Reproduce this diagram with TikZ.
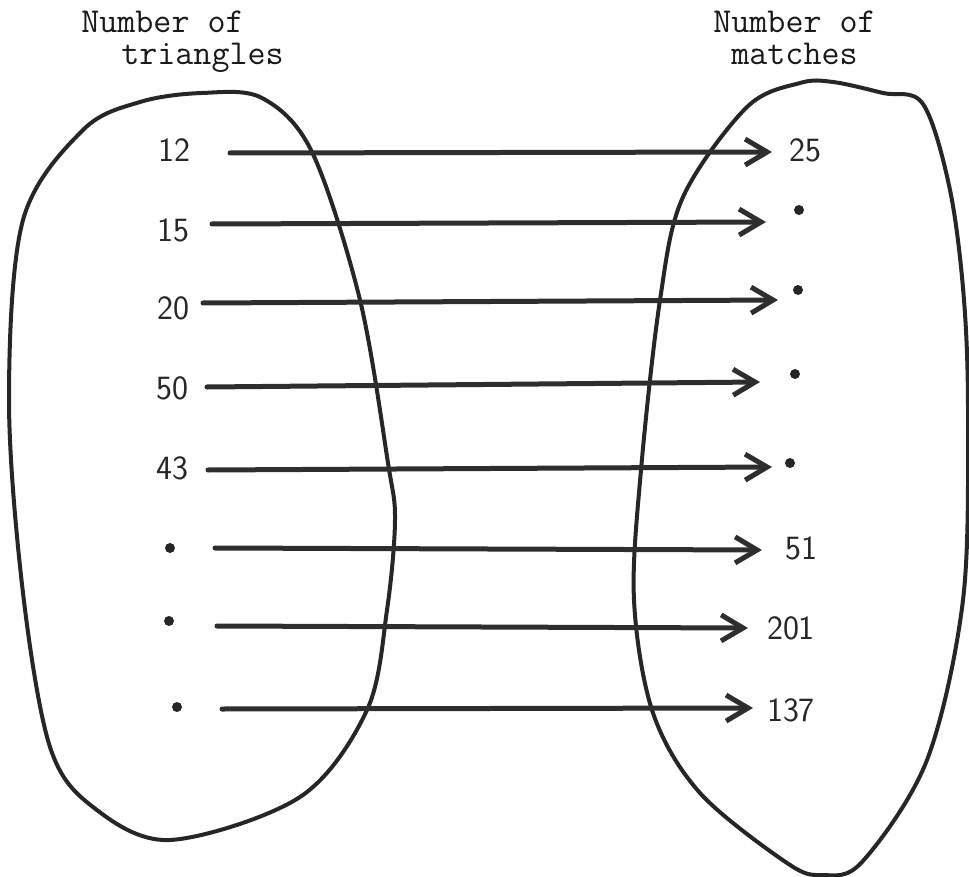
\documentclass[tikz,border=0pt]{standalone}
\usepackage{tikz}
\usetikzlibrary{arrows.meta}
\tikzset{
  blob/.style={line width=2pt, black!85, line join=round},
  maparr/.style={line width=2.5pt, black!82, line cap=round,
    -{Straight Barb[length=11pt, width=13pt]}},
  numlbl/.style={font=\fontsize{17}{17}\selectfont\sffamily, inner sep=0pt, black!85},
  headlbl/.style={font=\fontsize{17.5}{16}\selectfont\ttfamily, inner sep=0pt, align=left,
    anchor=north west, black!90},
  dotmark/.style={circle, fill=black!85, inner sep=0pt, minimum size=5pt},
}

\begin{document}
\begin{tikzpicture}[x=0.5pt, y=-0.5pt]
\useasboundingbox (0,0) rectangle (969,877);
% headings
\node[headlbl] (tri) at (81,11) {Number of\\\hspace*{20pt}triangles};
\node[headlbl] (mat) at (713,11) {Number of\\\hspace*{9pt}matches};
% the two sets
\draw[blob] plot[smooth cycle, tension=0.55] coordinates {
  (202,93) (262,98) (312,152) (360,300) (388,463) (395,520) (387,610)
  (367,710) (300,797) (170,840) (93,807) (50,747) (23,593) (9,400)
  (23,220) (83,130) (140,102)};
\draw[blob] plot[smooth cycle, tension=0.55] coordinates {
  (800,83) (833,82) (883,93) (923,104) (950,190) (964,300) (968,420)
  (963,600) (927,760) (862,862) (822,875) (787,863) (700,793)
  (653,713) (634,600) (641,470) (660,300) (683,197) (747,107)};
% left values
\node[numlbl] (l1) at (174,150) {12};
\node[numlbl] (l2) at (173,230) {15};
\node[numlbl] (l3) at (173,308) {20};
\node[numlbl] (l4) at (172,388) {50};
\node[numlbl] (l5) at (172,468) {43};
\node[dotmark] (l6) at (170,548) {};
\node[dotmark] (l7) at (169,621) {};
\node[dotmark] (l8) at (177,707) {};
% right values
\node[numlbl] (r1) at (805,150) {25};
\node[dotmark] (r2) at (799,210) {};
\node[dotmark] (r3) at (798,290) {};
\node[dotmark] (r4) at (795,374) {};
\node[dotmark] (r5) at (790,463) {};
\node[numlbl] (r6) at (801,548) {51};
\node[numlbl] (r7) at (791,628) {201};
\node[numlbl] (r8) at (791,710) {137};
% mapping arrows
\foreach \i/\xs/\ys/\xe/\ye in {1/230/153/772/152, 2/212/224/766/222,
  3/203/303/778/300, 4/207/387/760/382, 5/208/470/772/467,
  6/215/548/762/550, 7/217/626/748/628, 8/222/709/753/708} {
  \coordinate (s\i) at (\xs,\ys);
  \coordinate (e\i) at (\xe,\ye);
  \draw[maparr] (s\i) -- (e\i);
}
\end{tikzpicture}
\end{document}
